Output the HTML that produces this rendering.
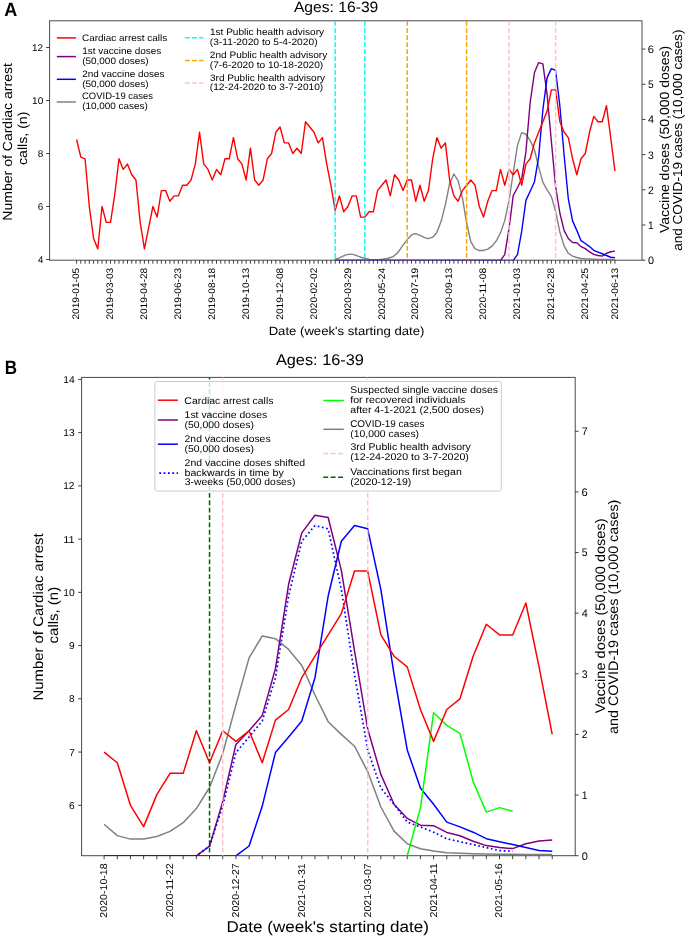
<!DOCTYPE html>
<html><head><meta charset="utf-8"><style>
html,body{margin:0;padding:0;background:#fff;}
svg{display:block;will-change:transform;}
text{font-family:"Liberation Sans", sans-serif;text-rendering:geometricPrecision;}
</style></head><body>
<svg width="685" height="937" viewBox="0 0 685 937">
<rect x="0" y="0" width="685" height="937" fill="#fff"/>
<text x="4.25" y="15.60" font-size="19.28" font-weight="bold" textLength="13.04" lengthAdjust="spacingAndGlyphs" fill="#000">A</text>
<text x="293.90" y="12.30" font-size="14.88" textLength="84.43" lengthAdjust="spacingAndGlyphs" fill="#000000">Ages: 16-39</text>
<rect x="49.6" y="20.8" width="592.40" height="239.40" fill="none" stroke="#4a4a4a" stroke-width="1"/>
<defs><clipPath id="ca"><rect x="49.6" y="20.8" width="592.40" height="239.40"/></clipPath><clipPath id="cb"><rect x="81.6" y="377.4" width="493.60" height="478.30"/></clipPath></defs>
<g clip-path="url(#ca)">
<polyline points="334.60,259.50 338.30,258.50 341.90,256.60 345.90,254.90 349.90,254.10 354.00,254.60 358.00,256.20 361.60,257.50 365.30,258.50 369.60,259.40 374.00,259.80 378.40,259.70 382.80,259.10 387.10,258.50 391.50,257.30 394.50,255.60 397.40,253.00 400.30,249.20 403.20,244.90 407.60,239.10 412.00,234.70 415.60,233.70 420.00,235.30 424.10,237.40 428.20,238.70 432.70,237.20 436.70,232.70 441.20,221.10 445.40,204.60 449.60,183.70 453.90,174.00 458.10,180.70 462.30,197.20 466.30,221.10 470.83,241.98 475.07,248.53 479.30,250.57 483.54,250.45 487.78,249.06 492.02,246.10 496.26,241.05 500.50,232.86 504.74,220.62 508.98,200.88 513.22,172.73 517.46,145.40 521.69,132.63 525.93,134.25 530.17,140.46 534.41,149.75 538.65,166.93 542.89,182.43 547.13,189.80 551.37,196.65 555.61,211.39 559.85,231.93 564.09,245.92 568.32,253.29 572.56,256.14 576.80,257.53 581.04,258.46 585.28,258.81 589.52,259.04 593.76,259.21 598.00,259.33 602.24,259.39 606.48,259.45 610.71,259.50 614.95,259.50" fill="none" stroke="#808080" stroke-width="1.4" stroke-linejoin="round" stroke-linecap="butt"/>
<polyline points="335.18,260.45 470.83,260.45 475.07,260.45 479.30,260.45 483.54,260.45 487.78,260.45 492.02,260.45 496.26,260.45 500.50,260.45 504.74,254.69 508.98,228.80 513.22,195.60 517.46,187.71 521.69,178.77 525.93,151.61 530.17,102.68 534.41,72.85 538.65,62.57 542.89,63.91 547.13,94.61 551.37,141.33 555.61,186.66 559.85,213.01 564.09,230.37 568.32,238.55 572.56,242.50 576.80,242.79 581.04,246.68 585.28,248.65 589.52,251.84 593.76,254.34 598.00,255.50 602.24,256.08 606.48,253.24 610.71,251.73 614.95,251.15" fill="none" stroke="#800080" stroke-width="1.4" stroke-linejoin="round" stroke-linecap="butt"/>
<polyline points="335.18,260.45 470.83,260.45 475.07,260.45 479.30,260.45 483.54,260.45 487.78,260.45 492.02,260.45 496.26,260.45 500.50,260.45 504.74,260.45 508.98,260.45 513.22,260.45 517.46,254.57 521.69,231.41 525.93,200.36 530.17,191.31 534.41,182.02 538.65,156.89 542.89,109.47 547.13,77.66 551.37,68.61 555.61,70.47 559.85,105.75 564.09,154.97 568.32,198.79 572.56,220.91 576.80,230.37 581.04,240.70 585.28,243.48 589.52,246.56 593.76,250.33 598.00,252.07 602.24,253.76 606.48,255.50 610.71,257.24 614.95,257.59" fill="none" stroke="#0000ff" stroke-width="1.4" stroke-linejoin="round" stroke-linecap="butt"/>
<polyline points="76.60,139.50 80.84,157.10 85.08,158.80 89.32,206.50 93.56,238.30 97.79,248.90 102.03,206.50 106.27,222.40 110.51,222.40 114.75,194.50 118.99,158.80 123.23,169.40 127.47,164.10 131.71,174.70 135.95,180.00 140.19,222.40 144.42,248.90 148.66,227.70 152.90,206.50 157.14,217.10 161.38,190.60 165.62,190.60 169.86,201.20 174.10,195.90 178.34,195.90 182.57,185.30 186.81,185.30 191.05,180.00 195.29,164.10 199.53,132.30 203.77,164.10 208.01,169.40 212.25,180.00 216.49,169.40 220.73,174.70 224.97,158.80 229.20,158.80 233.44,137.60 237.68,158.80 241.92,164.10 246.16,180.00 250.40,148.20 254.64,180.00 258.88,185.30 263.12,180.00 267.36,158.80 271.59,153.50 275.83,132.30 280.07,127.00 284.31,142.90 288.55,142.90 292.79,153.50 297.03,148.20 301.27,153.50 305.51,121.70 309.75,127.00 313.98,132.30 318.22,142.90 322.46,137.60 326.70,164.10 330.94,185.30 335.18,210.30 339.42,195.90 343.66,211.80 347.90,206.50 352.13,195.90 356.37,195.90 360.61,217.10 364.85,217.10 369.09,211.80 373.33,211.80 377.57,190.60 381.81,185.30 386.05,180.00 390.29,195.90 394.52,174.70 398.76,180.00 403.00,190.60 407.24,180.00 411.48,180.00 415.72,201.20 419.96,185.30 424.20,201.20 428.44,190.60 432.68,158.80 436.91,137.60 441.15,148.20 445.39,142.90 449.63,180.00 453.87,195.90 458.11,201.20 462.35,190.60 466.59,185.30 470.83,180.00 475.07,185.30 479.30,206.50 483.54,217.10 487.78,201.20 492.02,190.60 496.26,190.60 500.50,169.40 504.74,185.30 508.98,169.40 513.22,174.70 517.46,169.40 521.69,185.30 525.93,164.10 530.17,158.80 534.41,142.90 538.65,132.30 542.89,121.70 547.13,111.10 551.37,89.90 555.61,89.90 559.85,121.70 564.09,132.30 568.32,137.60 572.56,158.80 576.80,174.70 581.04,158.80 585.28,153.50 589.52,132.30 593.76,116.40 598.00,121.70 602.24,121.70 606.48,105.80 610.71,137.60 614.95,171.18" fill="none" stroke="#ff0000" stroke-width="1.4" stroke-linejoin="round" stroke-linecap="butt"/>
</g>
<line x1="335.18" y1="20.80" x2="335.18" y2="260.20" stroke="#00ffff" stroke-width="1.5" stroke-dasharray="4.75 2.277" stroke-dashoffset="-0.3"/>
<line x1="364.85" y1="20.80" x2="364.85" y2="260.20" stroke="#00ffff" stroke-width="1.5" stroke-dasharray="4.75 2.277" stroke-dashoffset="-0.3"/>
<line x1="407.24" y1="20.80" x2="407.24" y2="260.20" stroke="#ffa500" stroke-width="1.5" stroke-dasharray="4.75 2.277" stroke-dashoffset="-0.3"/>
<line x1="466.59" y1="20.80" x2="466.59" y2="260.20" stroke="#ffa500" stroke-width="1.5" stroke-dasharray="4.75 2.277" stroke-dashoffset="-0.3"/>
<line x1="508.98" y1="20.80" x2="508.98" y2="260.20" stroke="#ffc0cb" stroke-width="1.5" stroke-dasharray="4.75 2.277" stroke-dashoffset="-0.3"/>
<line x1="555.61" y1="20.80" x2="555.61" y2="260.20" stroke="#ffc0cb" stroke-width="1.5" stroke-dasharray="4.75 2.277" stroke-dashoffset="-0.3"/>
<path d="M76.60,260.20v3.5 M80.84,260.20v3.5 M85.08,260.20v3.5 M89.32,260.20v3.5 M93.56,260.20v3.5 M97.79,260.20v3.5 M102.03,260.20v3.5 M106.27,260.20v3.5 M110.51,260.20v3.5 M114.75,260.20v3.5 M118.99,260.20v3.5 M123.23,260.20v3.5 M127.47,260.20v3.5 M131.71,260.20v3.5 M135.95,260.20v3.5 M140.19,260.20v3.5 M144.42,260.20v3.5 M148.66,260.20v3.5 M152.90,260.20v3.5 M157.14,260.20v3.5 M161.38,260.20v3.5 M165.62,260.20v3.5 M169.86,260.20v3.5 M174.10,260.20v3.5 M178.34,260.20v3.5 M182.57,260.20v3.5 M186.81,260.20v3.5 M191.05,260.20v3.5 M195.29,260.20v3.5 M199.53,260.20v3.5 M203.77,260.20v3.5 M208.01,260.20v3.5 M212.25,260.20v3.5 M216.49,260.20v3.5 M220.73,260.20v3.5 M224.97,260.20v3.5 M229.20,260.20v3.5 M233.44,260.20v3.5 M237.68,260.20v3.5 M241.92,260.20v3.5 M246.16,260.20v3.5 M250.40,260.20v3.5 M254.64,260.20v3.5 M258.88,260.20v3.5 M263.12,260.20v3.5 M267.36,260.20v3.5 M271.59,260.20v3.5 M275.83,260.20v3.5 M280.07,260.20v3.5 M284.31,260.20v3.5 M288.55,260.20v3.5 M292.79,260.20v3.5 M297.03,260.20v3.5 M301.27,260.20v3.5 M305.51,260.20v3.5 M309.75,260.20v3.5 M313.98,260.20v3.5 M318.22,260.20v3.5 M322.46,260.20v3.5 M326.70,260.20v3.5 M330.94,260.20v3.5 M335.18,260.20v3.5 M339.42,260.20v3.5 M343.66,260.20v3.5 M347.90,260.20v3.5 M352.13,260.20v3.5 M356.37,260.20v3.5 M360.61,260.20v3.5 M364.85,260.20v3.5 M369.09,260.20v3.5 M373.33,260.20v3.5 M377.57,260.20v3.5 M381.81,260.20v3.5 M386.05,260.20v3.5 M390.29,260.20v3.5 M394.52,260.20v3.5 M398.76,260.20v3.5 M403.00,260.20v3.5 M407.24,260.20v3.5 M411.48,260.20v3.5 M415.72,260.20v3.5 M419.96,260.20v3.5 M424.20,260.20v3.5 M428.44,260.20v3.5 M432.68,260.20v3.5 M436.91,260.20v3.5 M441.15,260.20v3.5 M445.39,260.20v3.5 M449.63,260.20v3.5 M453.87,260.20v3.5 M458.11,260.20v3.5 M462.35,260.20v3.5 M466.59,260.20v3.5 M470.83,260.20v3.5 M475.07,260.20v3.5 M479.30,260.20v3.5 M483.54,260.20v3.5 M487.78,260.20v3.5 M492.02,260.20v3.5 M496.26,260.20v3.5 M500.50,260.20v3.5 M504.74,260.20v3.5 M508.98,260.20v3.5 M513.22,260.20v3.5 M517.46,260.20v3.5 M521.69,260.20v3.5 M525.93,260.20v3.5 M530.17,260.20v3.5 M534.41,260.20v3.5 M538.65,260.20v3.5 M542.89,260.20v3.5 M547.13,260.20v3.5 M551.37,260.20v3.5 M555.61,260.20v3.5 M559.85,260.20v3.5 M564.09,260.20v3.5 M568.32,260.20v3.5 M572.56,260.20v3.5 M576.80,260.20v3.5 M581.04,260.20v3.5 M585.28,260.20v3.5 M589.52,260.20v3.5 M593.76,260.20v3.5 M598.00,260.20v3.5 M602.24,260.20v3.5 M606.48,260.20v3.5 M610.71,260.20v3.5 M614.95,260.20v3.5 M46.20,259.50h3.4 M46.20,206.50h3.4 M46.20,153.50h3.4 M46.20,100.50h3.4 M46.20,47.50h3.4 M642.00,260.20h3.4 M642.00,225.01h3.4 M642.00,189.82h3.4 M642.00,154.63h3.4 M642.00,119.44h3.4 M642.00,84.25h3.4 M642.00,49.06h3.4" stroke="#2a2a2a" stroke-width="0.9" fill="none"/>
<text x="37.91" y="262.90" font-size="9.71" textLength="5.37" lengthAdjust="spacingAndGlyphs" fill="#000000">4</text>
<text x="37.79" y="209.90" font-size="9.71" textLength="5.56" lengthAdjust="spacingAndGlyphs" fill="#000000">6</text>
<text x="37.80" y="156.90" font-size="9.71" textLength="5.50" lengthAdjust="spacingAndGlyphs" fill="#000000">8</text>
<text x="32.05" y="103.90" font-size="9.71" textLength="11.21" lengthAdjust="spacingAndGlyphs" fill="#000000">10</text>
<text x="32.06" y="50.90" font-size="9.71" textLength="11.01" lengthAdjust="spacingAndGlyphs" fill="#000000">12</text>
<text x="647.94" y="264.10" font-size="10.87" textLength="6.03" lengthAdjust="spacingAndGlyphs" fill="#000000">0</text>
<text x="648.06" y="228.91" font-size="10.87" textLength="5.73" lengthAdjust="spacingAndGlyphs" fill="#000000">1</text>
<text x="647.95" y="193.72" font-size="10.87" textLength="5.79" lengthAdjust="spacingAndGlyphs" fill="#000000">2</text>
<text x="648.06" y="158.53" font-size="10.87" textLength="5.79" lengthAdjust="spacingAndGlyphs" fill="#000000">3</text>
<text x="648.00" y="123.34" font-size="10.87" textLength="6.01" lengthAdjust="spacingAndGlyphs" fill="#000000">4</text>
<text x="648.06" y="88.15" font-size="10.87" textLength="5.73" lengthAdjust="spacingAndGlyphs" fill="#000000">5</text>
<text x="647.86" y="52.96" font-size="10.87" textLength="6.22" lengthAdjust="spacingAndGlyphs" fill="#000000">6</text>
<text transform="translate(79.30,319.56) rotate(-90)" font-size="9.49" textLength="51.77" lengthAdjust="spacingAndGlyphs" fill="#000000">2019-01-05</text>
<text transform="translate(113.21,319.60) rotate(-90)" font-size="9.49" textLength="51.81" lengthAdjust="spacingAndGlyphs" fill="#000000">2019-03-03</text>
<text transform="translate(147.12,319.74) rotate(-90)" font-size="9.49" textLength="51.95" lengthAdjust="spacingAndGlyphs" fill="#000000">2019-04-28</text>
<text transform="translate(181.04,319.60) rotate(-90)" font-size="9.49" textLength="51.81" lengthAdjust="spacingAndGlyphs" fill="#000000">2019-06-23</text>
<text transform="translate(214.95,319.74) rotate(-90)" font-size="9.49" textLength="51.95" lengthAdjust="spacingAndGlyphs" fill="#000000">2019-08-18</text>
<text transform="translate(248.86,319.60) rotate(-90)" font-size="9.49" textLength="51.81" lengthAdjust="spacingAndGlyphs" fill="#000000">2019-10-13</text>
<text transform="translate(282.77,319.74) rotate(-90)" font-size="9.49" textLength="51.95" lengthAdjust="spacingAndGlyphs" fill="#000000">2019-12-08</text>
<text transform="translate(316.68,319.42) rotate(-90)" font-size="9.49" textLength="51.73" lengthAdjust="spacingAndGlyphs" fill="#000000">2020-02-02</text>
<text transform="translate(350.60,319.69) rotate(-90)" font-size="9.49" textLength="51.95" lengthAdjust="spacingAndGlyphs" fill="#000000">2020-03-29</text>
<text transform="translate(384.51,319.83) rotate(-90)" font-size="9.49" textLength="51.94" lengthAdjust="spacingAndGlyphs" fill="#000000">2020-05-24</text>
<text transform="translate(418.42,319.69) rotate(-90)" font-size="9.49" textLength="51.95" lengthAdjust="spacingAndGlyphs" fill="#000000">2020-07-19</text>
<text transform="translate(452.33,319.60) rotate(-90)" font-size="9.49" textLength="51.81" lengthAdjust="spacingAndGlyphs" fill="#000000">2020-09-13</text>
<text transform="translate(486.24,319.75) rotate(-90)" font-size="9.49" textLength="51.97" lengthAdjust="spacingAndGlyphs" fill="#000000">2020-11-08</text>
<text transform="translate(520.16,319.60) rotate(-90)" font-size="9.49" textLength="51.81" lengthAdjust="spacingAndGlyphs" fill="#000000">2021-01-03</text>
<text transform="translate(554.07,319.74) rotate(-90)" font-size="9.49" textLength="51.95" lengthAdjust="spacingAndGlyphs" fill="#000000">2021-02-28</text>
<text transform="translate(587.98,319.56) rotate(-90)" font-size="9.49" textLength="51.77" lengthAdjust="spacingAndGlyphs" fill="#000000">2021-04-25</text>
<text transform="translate(617.65,319.60) rotate(-90)" font-size="9.49" textLength="51.81" lengthAdjust="spacingAndGlyphs" fill="#000000">2021-06-13</text>
<text x="268.65" y="335.10" font-size="12.03" textLength="155.72" lengthAdjust="spacingAndGlyphs" fill="#000000">Date (week&#39;s starting date)</text>
<text transform="translate(12.00,220.72) rotate(-90)" font-size="13.19" textLength="157.65" lengthAdjust="spacingAndGlyphs" fill="#000000">Number of Cardiac arrest</text>
<text transform="translate(27.20,164.96) rotate(-90)" font-size="13.19" textLength="53.34" lengthAdjust="spacingAndGlyphs" fill="#000000">calls, (n)</text>
<text transform="translate(669.00,233.07) rotate(-90)" font-size="13.29" textLength="187.32" lengthAdjust="spacingAndGlyphs" fill="#000000">Vaccine doses (50,000 doses)</text>
<text transform="translate(682.20,250.84) rotate(-90)" font-size="13.05" textLength="221.25" lengthAdjust="spacingAndGlyphs" fill="#000000">and COVID-19 cases (10,000 cases)</text>
<line x1="56.8" y1="37.90" x2="75.9" y2="37.90" stroke="#ff0000" stroke-width="1.5"/>
<line x1="56.8" y1="56.60" x2="75.9" y2="56.60" stroke="#800080" stroke-width="1.5"/>
<line x1="56.8" y1="79.30" x2="75.9" y2="79.30" stroke="#0000ff" stroke-width="1.5"/>
<line x1="56.8" y1="102.00" x2="75.9" y2="102.00" stroke="#808080" stroke-width="1.5"/>
<text x="81.99" y="41.40" font-size="9.39" textLength="85.20" lengthAdjust="spacingAndGlyphs" fill="#000000">Cardiac arrest calls</text>
<text x="82.23" y="53.90" font-size="9.39" textLength="79.09" lengthAdjust="spacingAndGlyphs" fill="#000000">1st vaccine doses</text>
<text x="82.16" y="63.60" font-size="9.39" textLength="66.44" lengthAdjust="spacingAndGlyphs" fill="#000000">(50,000 doses)</text>
<text x="82.17" y="76.80" font-size="9.39" textLength="82.31" lengthAdjust="spacingAndGlyphs" fill="#000000">2nd vaccine doses</text>
<text x="82.16" y="86.50" font-size="9.39" textLength="66.44" lengthAdjust="spacingAndGlyphs" fill="#000000">(50,000 doses)</text>
<text x="82.02" y="98.90" font-size="9.39" textLength="70.96" lengthAdjust="spacingAndGlyphs" fill="#000000">COVID-19 cases</text>
<text x="82.16" y="108.90" font-size="9.39" textLength="65.72" lengthAdjust="spacingAndGlyphs" fill="#000000">(10,000 cases)</text>
<line x1="184.9" y1="37.80" x2="203.4" y2="37.80" stroke="#00ffff" stroke-width="1.5" stroke-dasharray="4.85 2.25"/>
<line x1="184.9" y1="60.40" x2="203.4" y2="60.40" stroke="#ffa500" stroke-width="1.5" stroke-dasharray="4.85 2.25"/>
<line x1="184.9" y1="83.00" x2="203.4" y2="83.00" stroke="#ffc0cb" stroke-width="1.5" stroke-dasharray="4.85 2.25"/>
<text x="209.92" y="34.90" font-size="9.39" textLength="114.14" lengthAdjust="spacingAndGlyphs" fill="#000000">1st Public health advisory</text>
<text x="209.84" y="44.90" font-size="9.39" textLength="107.75" lengthAdjust="spacingAndGlyphs" fill="#000000">(3-11-2020 to 5-4-2020)</text>
<text x="209.86" y="57.70" font-size="9.39" textLength="117.35" lengthAdjust="spacingAndGlyphs" fill="#000000">2nd Public health advisory</text>
<text x="209.85" y="67.60" font-size="9.39" textLength="113.40" lengthAdjust="spacingAndGlyphs" fill="#000000">(7-6-2020 to 10-18-2020)</text>
<text x="209.97" y="80.50" font-size="9.39" textLength="115.13" lengthAdjust="spacingAndGlyphs" fill="#000000">3rd Public health advisory</text>
<text x="209.85" y="89.80" font-size="9.39" textLength="113.40" lengthAdjust="spacingAndGlyphs" fill="#000000">(12-24-2020 to 3-7-2010)</text>
<text x="4.69" y="373.80" font-size="19.35" font-weight="bold" textLength="12.31" lengthAdjust="spacingAndGlyphs" fill="#000">B</text>
<text x="275.90" y="365.30" font-size="15.51" textLength="88.02" lengthAdjust="spacingAndGlyphs" fill="#000000">Ages: 16-39</text>
<rect x="81.6" y="377.4" width="493.60" height="478.30" fill="none" stroke="#4a4a4a" stroke-width="1"/>
<g clip-path="url(#cb)">
<polyline points="104.10,824.30 117.28,835.60 130.46,839.10 143.64,838.90 156.82,836.50 170.00,831.40 183.18,822.70 196.36,808.60 209.54,787.50 222.72,753.50 235.90,705.00 249.08,657.90 262.26,635.90 275.44,638.70 288.62,649.40 301.80,665.40 314.98,695.00 328.16,721.70 341.34,734.40 354.52,746.20 367.70,771.60 380.88,807.00 394.06,831.10 407.24,843.80 420.42,848.70 433.60,851.10 446.78,852.70 459.96,853.30 473.14,853.70 486.32,854.00 499.50,854.20 512.68,854.30 525.86,854.40 539.04,854.50 552.22,854.50" fill="none" stroke="#808080" stroke-width="1.5" stroke-linejoin="round" stroke-linecap="butt"/>
<polyline points="104.10,855.95 117.28,855.95 130.46,855.95 143.64,855.95 156.82,855.95 170.00,855.95 183.18,855.95 196.36,855.95 209.54,846.20 222.72,801.60 235.90,744.40 249.08,730.80 262.26,715.40 275.44,668.60 288.62,584.30 301.80,532.90 314.98,515.20 328.16,517.50 341.34,570.40 354.52,650.90 367.70,729.00 380.88,774.40 394.06,804.30 407.24,818.40 420.42,825.20 433.60,825.70 446.78,832.40 459.96,835.80 473.14,841.30 486.32,845.60 499.50,847.60 512.68,848.60 525.86,843.70 539.04,841.10 552.22,840.10" fill="none" stroke="#800080" stroke-width="1.5" stroke-linejoin="round" stroke-linecap="butt"/>
<polyline points="104.10,855.95 117.28,855.95 130.46,855.95 143.64,855.95 156.82,855.95 170.00,855.95 183.18,855.95 196.36,855.95 209.54,855.95 222.72,855.95 235.90,855.95 249.08,846.00 262.26,806.10 275.44,752.60 288.62,737.00 301.80,721.00 314.98,677.70 328.16,596.00 341.34,541.20 354.52,525.60 367.70,528.80 380.88,589.60 394.06,674.40 407.24,749.90 420.42,788.00 433.60,804.30 446.78,822.10 459.96,826.90 473.14,832.20 486.32,838.70 499.50,841.70 512.68,844.60 525.86,847.60 539.04,850.60 552.22,851.20" fill="none" stroke="#0000ff" stroke-width="1.5" stroke-linejoin="round" stroke-linecap="butt"/>
<polyline points="104.10,855.95 117.28,855.95 130.46,855.95 143.64,855.95 156.82,855.95 170.00,855.95 183.18,855.95 196.36,855.95 209.54,846.00 222.72,806.10 235.90,752.60 249.08,737.00 262.26,721.00 275.44,677.70 288.62,596.00 301.80,541.20 314.98,525.60 328.16,528.80 341.34,589.60 354.52,674.40 367.70,749.90 380.88,788.00 394.06,804.30 407.24,822.10 420.42,826.90 433.60,832.20 446.78,838.70 459.96,841.70 473.14,844.60 486.32,847.60 499.50,850.60 512.68,851.20" fill="none" stroke="#0000ff" stroke-width="1.7" stroke-linejoin="round" stroke-linecap="butt" stroke-dasharray="1.7 2.63"/>
<polyline points="407.24,855.70 420.42,807.90 433.60,712.70 446.78,725.40 459.96,733.30 473.14,781.60 486.32,812.10 499.50,807.60 512.68,811.20" fill="none" stroke="#00ff00" stroke-width="1.5" stroke-linejoin="round" stroke-linecap="butt"/>
<polyline points="104.10,752.06 117.28,762.71 130.46,805.30 143.64,826.60 156.82,794.65 170.00,773.36 183.18,773.36 196.36,730.76 209.54,762.71 222.72,730.76 235.90,741.41 249.08,730.76 262.26,762.71 275.44,720.12 288.62,709.47 301.80,677.52 314.98,656.23 328.16,634.93 341.34,613.64 354.52,571.04 367.70,571.04 380.88,634.93 394.06,656.23 407.24,666.88 420.42,709.47 433.60,741.41 446.78,709.47 459.96,698.82 473.14,656.23 486.32,624.28 499.50,634.93 512.68,634.93 525.86,602.99 539.04,666.88 552.22,734.33" fill="none" stroke="#ff0000" stroke-width="1.5" stroke-linejoin="round" stroke-linecap="butt"/>
</g>
<line x1="222.72" y1="377.40" x2="222.72" y2="855.70" stroke="#ffc0cb" stroke-width="1.5" stroke-dasharray="4.9 2.49" stroke-dashoffset="2.73"/>
<line x1="367.70" y1="377.40" x2="367.70" y2="855.70" stroke="#ffc0cb" stroke-width="1.5" stroke-dasharray="4.9 2.49" stroke-dashoffset="2.73"/>
<line x1="209.54" y1="377.40" x2="209.54" y2="855.70" stroke="#006400" stroke-width="1.5" stroke-dasharray="4.9 2.49" stroke-dashoffset="2.73"/>
<path d="M104.10,855.70v3.5 M117.28,855.70v3.5 M130.46,855.70v3.5 M143.64,855.70v3.5 M156.82,855.70v3.5 M170.00,855.70v3.5 M183.18,855.70v3.5 M196.36,855.70v3.5 M209.54,855.70v3.5 M222.72,855.70v3.5 M235.90,855.70v3.5 M249.08,855.70v3.5 M262.26,855.70v3.5 M275.44,855.70v3.5 M288.62,855.70v3.5 M301.80,855.70v3.5 M314.98,855.70v3.5 M328.16,855.70v3.5 M341.34,855.70v3.5 M354.52,855.70v3.5 M367.70,855.70v3.5 M380.88,855.70v3.5 M394.06,855.70v3.5 M407.24,855.70v3.5 M420.42,855.70v3.5 M433.60,855.70v3.5 M446.78,855.70v3.5 M459.96,855.70v3.5 M473.14,855.70v3.5 M486.32,855.70v3.5 M499.50,855.70v3.5 M512.68,855.70v3.5 M525.86,855.70v3.5 M539.04,855.70v3.5 M552.22,855.70v3.5 M78.20,805.30h3.4 M78.20,752.06h3.4 M78.20,698.82h3.4 M78.20,645.58h3.4 M78.20,592.34h3.4 M78.20,539.10h3.4 M78.20,485.86h3.4 M78.20,432.62h3.4 M78.20,379.38h3.4 M575.20,855.70h3.4 M575.20,795.07h3.4 M575.20,734.44h3.4 M575.20,673.81h3.4 M575.20,613.18h3.4 M575.20,552.55h3.4 M575.20,491.92h3.4 M575.20,431.29h3.4" stroke="#2a2a2a" stroke-width="0.9" fill="none"/>
<text x="69.12" y="808.80" font-size="9.92" textLength="5.68" lengthAdjust="spacingAndGlyphs" fill="#000000">6</text>
<text x="69.24" y="755.56" font-size="9.92" textLength="5.40" lengthAdjust="spacingAndGlyphs" fill="#000000">7</text>
<text x="69.13" y="702.32" font-size="9.92" textLength="5.62" lengthAdjust="spacingAndGlyphs" fill="#000000">8</text>
<text x="69.13" y="649.08" font-size="9.92" textLength="5.62" lengthAdjust="spacingAndGlyphs" fill="#000000">9</text>
<text x="63.25" y="595.84" font-size="9.92" textLength="11.45" lengthAdjust="spacingAndGlyphs" fill="#000000">10</text>
<text x="63.20" y="542.60" font-size="9.92" textLength="11.41" lengthAdjust="spacingAndGlyphs" fill="#000000">11</text>
<text x="63.26" y="489.36" font-size="9.92" textLength="11.25" lengthAdjust="spacingAndGlyphs" fill="#000000">12</text>
<text x="63.26" y="436.12" font-size="9.92" textLength="11.35" lengthAdjust="spacingAndGlyphs" fill="#000000">13</text>
<text x="63.25" y="382.88" font-size="9.92" textLength="11.50" lengthAdjust="spacingAndGlyphs" fill="#000000">14</text>
<text x="581.64" y="859.60" font-size="10.97" textLength="6.09" lengthAdjust="spacingAndGlyphs" fill="#000000">0</text>
<text x="581.76" y="798.97" font-size="10.97" textLength="5.78" lengthAdjust="spacingAndGlyphs" fill="#000000">1</text>
<text x="581.65" y="738.34" font-size="10.97" textLength="5.85" lengthAdjust="spacingAndGlyphs" fill="#000000">2</text>
<text x="581.76" y="677.71" font-size="10.97" textLength="5.85" lengthAdjust="spacingAndGlyphs" fill="#000000">3</text>
<text x="581.70" y="617.08" font-size="10.97" textLength="6.07" lengthAdjust="spacingAndGlyphs" fill="#000000">4</text>
<text x="581.76" y="556.45" font-size="10.97" textLength="5.78" lengthAdjust="spacingAndGlyphs" fill="#000000">5</text>
<text x="581.56" y="495.82" font-size="10.97" textLength="6.28" lengthAdjust="spacingAndGlyphs" fill="#000000">6</text>
<text x="581.69" y="435.19" font-size="10.97" textLength="5.97" lengthAdjust="spacingAndGlyphs" fill="#000000">7</text>
<text transform="translate(107.00,917.63) rotate(-90)" font-size="9.92" textLength="54.26" lengthAdjust="spacingAndGlyphs" fill="#000000">2020-10-18</text>
<text transform="translate(172.90,917.31) rotate(-90)" font-size="9.92" textLength="54.05" lengthAdjust="spacingAndGlyphs" fill="#000000">2020-11-22</text>
<text transform="translate(238.80,917.44) rotate(-90)" font-size="9.92" textLength="54.17" lengthAdjust="spacingAndGlyphs" fill="#000000">2020-12-27</text>
<text transform="translate(304.70,917.39) rotate(-90)" font-size="9.92" textLength="54.07" lengthAdjust="spacingAndGlyphs" fill="#000000">2021-01-31</text>
<text transform="translate(370.60,917.44) rotate(-90)" font-size="9.92" textLength="54.17" lengthAdjust="spacingAndGlyphs" fill="#000000">2021-03-07</text>
<text transform="translate(436.50,917.40) rotate(-90)" font-size="9.92" textLength="54.10" lengthAdjust="spacingAndGlyphs" fill="#000000">2021-04-11</text>
<text transform="translate(502.40,917.68) rotate(-90)" font-size="9.92" textLength="54.31" lengthAdjust="spacingAndGlyphs" fill="#000000">2021-05-16</text>
<text x="226.53" y="931.60" font-size="15.64" textLength="202.44" lengthAdjust="spacingAndGlyphs" fill="#000000">Date (week&#39;s starting date)</text>
<text transform="translate(42.80,700.49) rotate(-90)" font-size="13.98" textLength="167.11" lengthAdjust="spacingAndGlyphs" fill="#000000">Number of Cardiac arrest</text>
<text transform="translate(58.00,643.40) rotate(-90)" font-size="13.98" textLength="56.54" lengthAdjust="spacingAndGlyphs" fill="#000000">calls, (n)</text>
<text transform="translate(605.00,713.17) rotate(-90)" font-size="13.82" textLength="194.75" lengthAdjust="spacingAndGlyphs" fill="#000000">Vaccine doses (50,000 doses)</text>
<text transform="translate(618.20,733.97) rotate(-90)" font-size="13.82" textLength="234.31" lengthAdjust="spacingAndGlyphs" fill="#000000">and COVID-19 cases (10,000 cases)</text>
<rect x="154.9" y="381.5" width="346.4" height="109.5" rx="2" ry="2" fill="#fff" fill-opacity="0.8" stroke="#cccccc" stroke-width="1"/>
<line x1="157.8" y1="400.20" x2="177.9" y2="400.20" stroke="#ff0000" stroke-width="1.5"/>
<line x1="157.8" y1="420.00" x2="177.9" y2="420.00" stroke="#800080" stroke-width="1.5"/>
<line x1="157.8" y1="444.20" x2="177.9" y2="444.20" stroke="#0000ff" stroke-width="1.5"/>
<line x1="159.3" y1="473.2" x2="178" y2="473.2" stroke="#0000ff" stroke-width="1.8" stroke-dasharray="1.8 2.53"/>
<text x="184.39" y="404.00" font-size="9.81" textLength="89.03" lengthAdjust="spacingAndGlyphs" fill="#000000">Cardiac arrest calls</text>
<text x="184.64" y="417.70" font-size="9.81" textLength="82.65" lengthAdjust="spacingAndGlyphs" fill="#000000">1st vaccine doses</text>
<text x="184.57" y="427.60" font-size="9.81" textLength="69.43" lengthAdjust="spacingAndGlyphs" fill="#000000">(50,000 doses)</text>
<text x="184.58" y="441.90" font-size="9.81" textLength="86.01" lengthAdjust="spacingAndGlyphs" fill="#000000">2nd vaccine doses</text>
<text x="184.57" y="451.60" font-size="9.81" textLength="69.43" lengthAdjust="spacingAndGlyphs" fill="#000000">(50,000 doses)</text>
<text x="184.57" y="465.60" font-size="9.81" textLength="120.64" lengthAdjust="spacingAndGlyphs" fill="#000000">2nd vaccine doses shifted</text>
<text x="184.55" y="475.50" font-size="9.81" textLength="99.15" lengthAdjust="spacingAndGlyphs" fill="#000000">backwards in time by</text>
<text x="184.68" y="485.40" font-size="9.81" textLength="110.85" lengthAdjust="spacingAndGlyphs" fill="#000000">3-weeks (50,000 doses)</text>
<line x1="323.3" y1="400.50" x2="343.8" y2="400.50" stroke="#00ff00" stroke-width="1.5"/>
<line x1="323.3" y1="429.30" x2="343.8" y2="429.30" stroke="#808080" stroke-width="1.5"/>
<line x1="323.3" y1="453.40" x2="343.8" y2="453.40" stroke="#ffc0cb" stroke-width="1.5" stroke-dasharray="4.9 2.49"/>
<line x1="323.3" y1="477.20" x2="343.8" y2="477.20" stroke="#006400" stroke-width="1.5" stroke-dasharray="4.9 2.49"/>
<text x="350.34" y="392.70" font-size="9.81" textLength="147.50" lengthAdjust="spacingAndGlyphs" fill="#000000">Suspected single vaccine doses</text>
<text x="350.23" y="402.50" font-size="9.81" textLength="115.19" lengthAdjust="spacingAndGlyphs" fill="#000000">for recovered individuals</text>
<text x="350.34" y="412.60" font-size="9.81" textLength="133.72" lengthAdjust="spacingAndGlyphs" fill="#000000">after 4-1-2021 (2,500 doses)</text>
<text x="350.22" y="426.60" font-size="9.81" textLength="74.15" lengthAdjust="spacingAndGlyphs" fill="#000000">COVID-19 cases</text>
<text x="350.37" y="436.60" font-size="9.81" textLength="68.68" lengthAdjust="spacingAndGlyphs" fill="#000000">(10,000 cases)</text>
<text x="350.48" y="450.40" font-size="9.81" textLength="120.31" lengthAdjust="spacingAndGlyphs" fill="#000000">3rd Public health advisory</text>
<text x="350.35" y="460.40" font-size="9.81" textLength="118.50" lengthAdjust="spacingAndGlyphs" fill="#000000">(12-24-2020 to 3-7-2020)</text>
<text x="350.24" y="474.50" font-size="9.81" textLength="111.54" lengthAdjust="spacingAndGlyphs" fill="#000000">Vaccinations first began</text>
<text x="350.36" y="484.50" font-size="9.81" textLength="60.99" lengthAdjust="spacingAndGlyphs" fill="#000000">(2020-12-19)</text>
</svg>
</body></html>
